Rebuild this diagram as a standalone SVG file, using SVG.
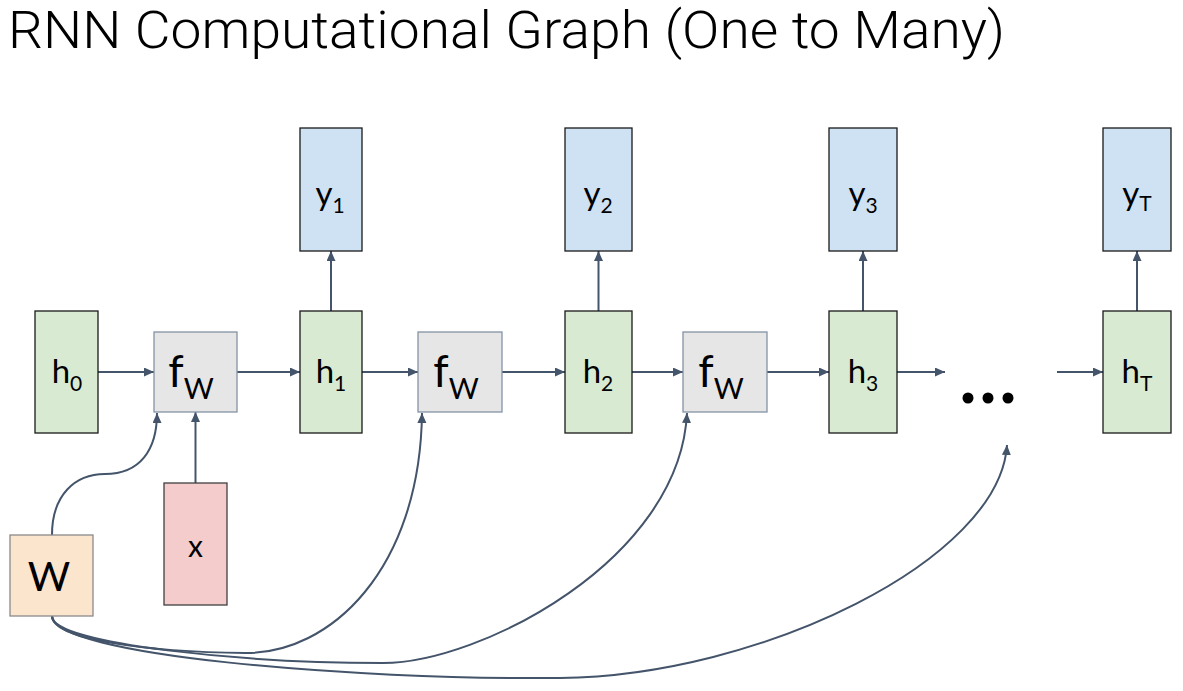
<svg xmlns="http://www.w3.org/2000/svg" width="1183" height="691" viewBox="0 0 1183 691">
<style>
.t{font-family:Lato,"Open Sans","Liberation Sans",sans-serif;fill:#000}
.ttl{font-family:Roboto,"Liberation Sans",sans-serif;font-weight:300;fill:#000}
.h{fill:#d9ead3;stroke:#1a1a1a;stroke-width:1.3}
.y{fill:#cfe2f3;stroke:#1a1a1a;stroke-width:1.3}
.f{fill:#e6e6e6;stroke:#8492a6;stroke-width:1.3}
.w{fill:#fce5cd;stroke:#8a8a8a;stroke-width:1.3}
.x{fill:#f4cccc;stroke:#404040;stroke-width:1.3}
.c{fill:none;stroke:#44546a;stroke-width:2;marker-end:url(#ah)}
</style>
<defs>
<marker id="ah" markerUnits="userSpaceOnUse" markerWidth="12" markerHeight="10" refX="10" refY="4.5" orient="auto">
<path d="M0,0 L10,4.5 L0,9 z" fill="#44546a"/>
</marker>
</defs>
<text class="ttl" x="8" y="48" font-size="51" textLength="997" lengthAdjust="spacingAndGlyphs">RNN Computational Graph (One to Many)</text>
<g id="connectors">
<line class="c" x1="98" y1="372" x2="154" y2="372"/>
<line class="c" x1="237" y1="372" x2="300" y2="372"/>
<line class="c" x1="362" y1="372" x2="418" y2="372"/>
<line class="c" x1="502" y1="372" x2="565" y2="372"/>
<line class="c" x1="632" y1="372" x2="683" y2="372"/>
<line class="c" x1="767" y1="372" x2="829" y2="372"/>
<line class="c" x1="897" y1="372" x2="945" y2="372"/>
<line class="c" x1="1057" y1="372" x2="1103" y2="372"/>
<line class="c" x1="331" y1="311" x2="331" y2="251"/>
<line class="c" x1="598.5" y1="311" x2="598.5" y2="251"/>
<line class="c" x1="863" y1="311" x2="863" y2="251"/>
<line class="c" x1="1137" y1="311" x2="1137" y2="251"/>
<line class="c" x1="195.5" y1="483" x2="195.5" y2="412"/>
<path class="c" d="M52 535 C52 495 75 474 105 474 C140 474 157 450 157 413"/>
<path class="c" d="M52 616 C52 640 150 652 245 653 C330 654 420 570 422 413"/>
<path class="c" d="M52 616 C52 645 250 663 383 663 C480 663 680 560 687 413"/>
<path class="c" d="M52 616 C52 655 350 680 560 678 C760 676 1000 560 1007 445"/>
</g>
<g id="h0"><rect class="h" x="35" y="311" width="63" height="122"/><text class="t" x="67" y="383" font-size="33" text-anchor="middle">h<tspan font-size="21" dy="8">0</tspan></text></g>
<g id="fw1"><rect class="f" x="154" y="332" width="83" height="80"/><text class="t" x="191" y="387" font-size="44" text-anchor="middle">f<tspan font-size="29" dy="12">W</tspan></text></g>
<g id="h1"><rect class="h" x="300" y="311" width="62" height="122"/><text class="t" x="331" y="383" font-size="33" text-anchor="middle">h<tspan font-size="21" dy="8">1</tspan></text></g>
<g id="y1"><rect class="y" x="300" y="128" width="62" height="123"/><text class="t" x="330" y="205" font-size="33" text-anchor="middle">y<tspan font-size="21" dy="8">1</tspan></text></g>
<g id="fw2"><rect class="f" x="418" y="332" width="84" height="80"/><text class="t" x="456" y="387" font-size="44" text-anchor="middle">f<tspan font-size="29" dy="12">W</tspan></text></g>
<g id="h2"><rect class="h" x="565" y="311" width="67" height="122"/><text class="t" x="598" y="383" font-size="33" text-anchor="middle">h<tspan font-size="21" dy="8">2</tspan></text></g>
<g id="y2"><rect class="y" x="565" y="128" width="67" height="123"/><text class="t" x="598" y="205" font-size="33" text-anchor="middle">y<tspan font-size="21" dy="8">2</tspan></text></g>
<g id="fw3"><rect class="f" x="683" y="332" width="84" height="80"/><text class="t" x="721" y="387" font-size="44" text-anchor="middle">f<tspan font-size="29" dy="12">W</tspan></text></g>
<g id="h3"><rect class="h" x="829" y="311" width="68" height="122"/><text class="t" x="863" y="383" font-size="33" text-anchor="middle">h<tspan font-size="21" dy="8">3</tspan></text></g>
<g id="y3"><rect class="y" x="829" y="128" width="68" height="123"/><text class="t" x="863" y="205" font-size="33" text-anchor="middle">y<tspan font-size="21" dy="8">3</tspan></text></g>
<g id="dots" fill="#000"><circle cx="968" cy="398" r="5.5"/><circle cx="988" cy="398" r="5.5"/><circle cx="1008" cy="398" r="5.5"/></g>
<g id="hT"><rect class="h" x="1103" y="311" width="68" height="122"/><text class="t" x="1137" y="383" font-size="33" text-anchor="middle">h<tspan font-size="21" dy="8">T</tspan></text></g>
<g id="yT"><rect class="y" x="1103" y="128" width="68" height="123"/><text class="t" x="1137" y="205" font-size="33" text-anchor="middle">y<tspan font-size="21" dy="6">T</tspan></text></g>
<g id="W"><rect class="w" x="10" y="535" width="83" height="81"/><text class="t" x="49" y="591" font-size="41" text-anchor="middle">W</text></g>
<g id="x"><rect class="x" x="164" y="483" width="63" height="122"/><text class="t" x="195.5" y="557" font-size="30" text-anchor="middle">x</text></g>
</svg>
